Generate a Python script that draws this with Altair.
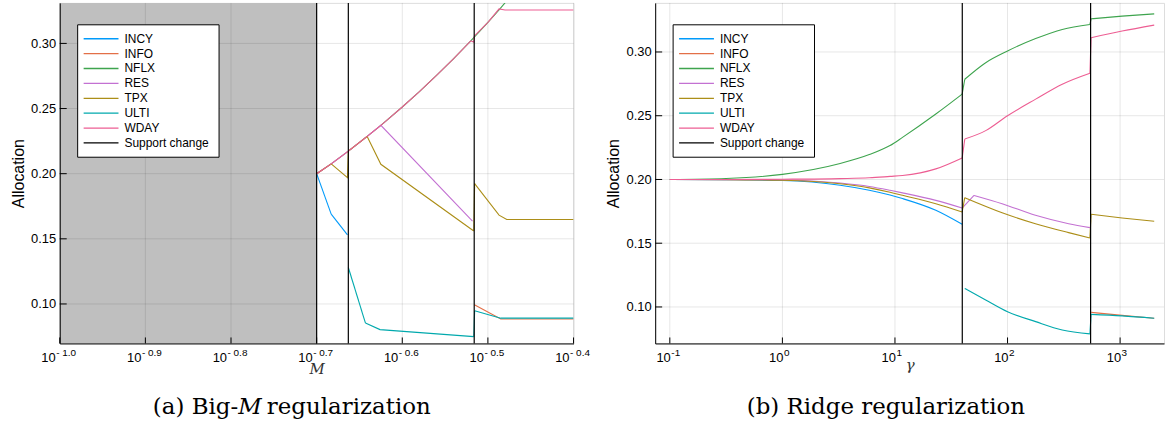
import altair as alt
import pandas as pd

SERIES = ["INCY", "INFO", "NFLX", "RES", "TPX", "ULTI", "WDAY"]
COLORS = ["#009AFA", "#E36F47", "#3EA44E", "#C371D2", "#AC8E18", "#00A9AD", "#ED5E93"]
SUPPORT = "Support change"
Y_TICKS = [0.10, 0.15, 0.20, 0.25, 0.30]

# ---------------- panel (a): Big-M, x = log10(M) ----------------
A_X_TICKS = [-1.0, -0.9, -0.8, -0.7, -0.6, -0.5, -0.4]
A_X_EXP = ["- 1.0", "- 0.9", "- 0.8", "- 0.7", "- 0.6", "- 0.5", "- 0.4"]
A_CHANGES = [-0.700, -0.663, -0.516]
A_SHADE = [-1.0, -0.7]

A_INCY_X = [-0.700, -0.683, -0.664]
A_INCY_Y = [0.2000, 0.1690, 0.1530]
A_INFO_X = [-0.5158, -0.485, -0.400]
A_INFO_Y = [0.0994, 0.0884, 0.0884]
A_NFLX_X = [-0.700, -0.683, -0.663, -0.641, -0.625, -0.600, -0.580, -0.560, -0.540, -0.520, -0.500, -0.487, -0.470, -0.450]
A_NFLX_Y = [0.2000, 0.2075, 0.2173, 0.2286, 0.2371, 0.2512, 0.2630, 0.2754, 0.2884, 0.3020, 0.3162, 0.3258, 0.3388, 0.3548]
A_RES_X = [-0.700, -0.683, -0.663, -0.641, -0.625, -0.518]
A_RES_Y = [0.2000, 0.2075, 0.2173, 0.2286, 0.2371, 0.1636]
A_TPX_X = [-0.700, -0.683, -0.664, -0.663, -0.641, -0.625, -0.5165, -0.5155, -0.487, -0.478, -0.400]
A_TPX_Y = [0.2000, 0.2075, 0.1970, 0.2173, 0.2286, 0.2072, 0.1560, 0.1924, 0.1682, 0.1648, 0.1648]
A_ULTI_X = [-0.663, -0.643, -0.626, -0.5165, -0.5155, -0.485, -0.400]
A_ULTI_Y = [0.1280, 0.0853, 0.0803, 0.0749, 0.0948, 0.0891, 0.0891]
A_WDAY_X = [-0.700, -0.683, -0.663, -0.641, -0.625, -0.600, -0.580, -0.560, -0.540, -0.520, -0.5165, -0.5160, -0.500, -0.487, -0.480, -0.400]
A_WDAY_Y = [0.2000, 0.2075, 0.2173, 0.2286, 0.2371, 0.2512, 0.2630, 0.2754, 0.2884, 0.3020, 0.3010, 0.3055, 0.3162, 0.3265, 0.3257, 0.3257]

# ---------------- panel (b): Ridge, x = log10(gamma) ----------------
B_X_TICKS = [-1, 0, 1, 2, 3]
B_X_EXP = ["-1", "0", "1", "2", "3"]
B_CHANGES = [1.598, 2.738]

B_INCY_X = [-1.0, -0.5, 0.0, 0.513, 0.772, 0.956, 1.067, 1.363, 1.597]
B_INCY_Y = [0.2000, 0.1998, 0.1992, 0.1955, 0.1916, 0.1878, 0.1850, 0.1758, 0.1648]
B_INFO_X = [2.742, 3.018, 3.303]
B_INFO_Y = [0.0958, 0.0934, 0.0911]
B_NFLX_X = [-1.0, -0.5, 0.0, 0.513, 0.772, 0.956, 1.067, 1.363, 1.597, 1.620, 1.806, 2.000, 2.250, 2.486, 2.732, 2.742, 3.018, 3.303]
B_NFLX_Y = [0.2000, 0.2008, 0.2040, 0.2125, 0.2195, 0.2266, 0.2330, 0.2513, 0.2669, 0.2786, 0.2916, 0.3008, 0.3105, 0.3177, 0.3216, 0.3260, 0.3281, 0.3299]
B_RES_X = [-1.0, -0.5, 0.0, 0.513, 0.772, 0.956, 1.067, 1.363, 1.597, 1.702, 1.952, 2.248, 2.543, 2.732]
B_RES_Y = [0.2000, 0.1999, 0.1996, 0.1972, 0.1945, 0.1915, 0.1895, 0.1836, 0.1776, 0.1875, 0.1810, 0.1719, 0.1653, 0.1622]
B_TPX_X = [-1.0, -0.5, 0.0, 0.513, 0.772, 0.956, 1.067, 1.363, 1.597, 1.620, 1.952, 2.248, 2.543, 2.732, 2.742, 3.018, 3.303]
B_TPX_Y = [0.2000, 0.1999, 0.1994, 0.1966, 0.1934, 0.1900, 0.1876, 0.1810, 0.1745, 0.1857, 0.1739, 0.1653, 0.1583, 0.1541, 0.1727, 0.1698, 0.1672]
B_ULTI_X = [1.620, 1.806, 2.000, 2.250, 2.486, 2.732, 2.742, 3.018, 3.303]
B_ULTI_Y = [0.1145, 0.1055, 0.0963, 0.0885, 0.0820, 0.0789, 0.0942, 0.0930, 0.0911]
B_WDAY_X = [-1.0, -0.5, 0.0, 0.513, 0.772, 0.956, 1.067, 1.363, 1.597, 1.620, 1.806, 2.000, 2.250, 2.486, 2.732, 2.742, 3.018, 3.303]
B_WDAY_Y = [0.2000, 0.2000, 0.2002, 0.2007, 0.2013, 0.2024, 0.2031, 0.2083, 0.2169, 0.2317, 0.2383, 0.2500, 0.2630, 0.2747, 0.2833, 0.3112, 0.3164, 0.3211]

SANS = "Liberation Sans"
SERIF = "DejaVu Serif"


def series_frames(pairs, changes):
    """Split every series into pieces between support changes (smooth pieces)
    plus short straight connectors across each change."""
    rows, conns = [], []
    for name, (xs, ys) in pairs.items():
        segs = [sum(1 for c in changes if x > c) for x in xs]
        for x, y, s in zip(xs, ys, segs):
            rows.append({"series": name, "x": x, "y": y, "seg": f"{name}-{s}"})
        for i in range(len(xs) - 1):
            if segs[i] != segs[i + 1]:
                key = f"{name}-c{i}"
                conns.append({"series": name, "x": xs[i], "y": ys[i], "seg": key})
                conns.append({"series": name, "x": xs[i + 1], "y": ys[i + 1], "seg": key})
    return pd.DataFrame(rows), pd.DataFrame(conns)


A_DF, A_CONN = series_frames({
    "INCY": (A_INCY_X, A_INCY_Y), "INFO": (A_INFO_X, A_INFO_Y), "NFLX": (A_NFLX_X, A_NFLX_Y),
    "RES": (A_RES_X, A_RES_Y), "TPX": (A_TPX_X, A_TPX_Y), "ULTI": (A_ULTI_X, A_ULTI_Y),
    "WDAY": (A_WDAY_X, A_WDAY_Y)}, A_CHANGES)
B_DF, B_CONN = series_frames({
    "INCY": (B_INCY_X, B_INCY_Y), "INFO": (B_INFO_X, B_INFO_Y), "NFLX": (B_NFLX_X, B_NFLX_Y),
    "RES": (B_RES_X, B_RES_Y), "TPX": (B_TPX_X, B_TPX_Y), "ULTI": (B_ULTI_X, B_ULTI_Y),
    "WDAY": (B_WDAY_X, B_WDAY_Y)}, B_CHANGES)


def panel(df, conn, xdom, ydom, w, h, xticks, xexp, changes, shade, x_title, title_y,
          interp, lab_dx, captions):
    xs = alt.Scale(domain=xdom, nice=False, zero=False)
    ys = alt.Scale(domain=ydom, nice=False, zero=False)
    cs = alt.Scale(domain=SERIES + [SUPPORT], range=COLORS + ["black"])
    xax = alt.Axis(
        labels=False, ticks=False, grid=False, domain=True, domainColor="black",
        domainWidth=1, title=x_title, titleFont=SERIF, titleFontStyle="italic",
        titleFontWeight="normal", titleFontSize=15, titleColor="#333333",
        titleY=title_y, titleBaseline="alphabetic", zindex=1)
    yax = alt.Axis(
        values=Y_TICKS, format=".2f", labelFont=SANS, labelFontSize=13,
        labelColor="black", labelPadding=4, ticks=False, grid=False,
        domainColor="black", domainWidth=1, title="Allocation", titleFont=SANS,
        titleFontSize=16, titleFontWeight="normal", titleColor="black",
        titleX=-41.5, titleY=h / 2, titleBaseline="middle", titleAngle=270, zindex=1)

    def X(f):
        return alt.X(f, scale=xs, axis=xax)

    def Y(f):
        return alt.Y(f, scale=ys, axis=yax)

    tick_df = pd.DataFrame({"t": xticks, "e": xexp, "b": ["10"] * len(xticks)})
    ytick_df = pd.DataFrame({"t": Y_TICKS})
    layers = []
    if shade:
        layers.append(
            alt.Chart(pd.DataFrame({"a": [shade[0]], "b": [shade[1]]}))
            .mark_rect(color="#bfbfbf")
            .encode(x=X("a:Q"), x2="b:Q", y=alt.value(0), y2=alt.value(h)))
    layers.append(
        alt.Chart(tick_df).mark_rule(color="black", opacity=0.1, strokeWidth=1)
        .encode(x=X("t:Q")))
    layers.append(
        alt.Chart(ytick_df).mark_rule(color="black", opacity=0.1, strokeWidth=1)
        .encode(y=Y("t:Q")))
    layers.append(
        alt.Chart(conn).mark_line(clip=True, strokeWidth=1.1, interpolate="linear")
        .encode(x=X("x:Q"), y=Y("y:Q"),
                color=alt.Color("series:N", scale=cs, legend=None),
                detail="seg:N"))
    layers.append(
        alt.Chart(df).mark_line(clip=True, strokeWidth=1.1, interpolate=interp)
        .encode(x=X("x:Q"), y=Y("y:Q"),
                color=alt.Color("series:N", scale=cs, legend=None),
                detail="seg:N"))
    layers.append(
        alt.Chart(pd.DataFrame({"c": changes})).mark_rule(color="black", strokeWidth=1.2)
        .encode(x=X("c:Q")))
    layers.append(
        alt.Chart(tick_df).mark_rule(color="black", strokeWidth=1)
        .encode(x=X("t:Q"), y=alt.value(h), y2=alt.value(h - 6)))
    layers.append(
        alt.Chart(ytick_df).mark_rule(color="black", strokeWidth=1)
        .encode(y=Y("t:Q"), x=alt.value(0), x2=alt.value(7)))
    layers.append(
        alt.Chart(tick_df).mark_text(align="right", baseline="alphabetic", dx=lab_dx,
                                     font=SANS, fontSize=13, color="black")
        .encode(x=X("t:Q"), y=alt.value(h + 18.5), text="b:N"))
    layers.append(
        alt.Chart(tick_df).mark_text(align="left", baseline="alphabetic", dx=lab_dx + 0.5,
                                     font=SANS, fontSize=10, color="black")
        .encode(x=X("t:Q"), y=alt.value(h + 12.5), text="e:N"))
    # legend drawn inside the plot
    leg_df = pd.DataFrame({"name": SERIES + [SUPPORT], "i": list(range(len(SERIES) + 1))})
    layers.append(
        alt.Chart(pd.DataFrame({"a": [0]})).mark_rect(fill="white", stroke="black", strokeWidth=1)
        .encode(x=alt.value(18), x2=alt.value(160), y=alt.value(22), y2=alt.value(155)))
    layers.append(
        alt.Chart(leg_df).transform_calculate(py="36 + datum.i * 14.95")
        .mark_rule(strokeWidth=1.3)
        .encode(x=alt.value(24), x2=alt.value(59), y=alt.Y("py:Q", scale=None),
                color=alt.Color("name:N", scale=cs, legend=None)))
    layers.append(
        alt.Chart(leg_df).transform_calculate(py="36 + datum.i * 14.95")
        .mark_text(align="left", baseline="middle", font=SANS, fontSize=12, color="black")
        .encode(x=alt.value(65), y=alt.Y("py:Q", scale=None), text="name:N"))
    for txt, cx, style, align in captions:
        layers.append(
            alt.Chart(pd.DataFrame({"s": [txt]}))
            .mark_text(align=align, baseline="alphabetic", font=SERIF, fontSize=23,
                       fontStyle=style, color="black")
            .encode(x=alt.value(cx), y=alt.value(h + 71), text="s:N"))
    return alt.layer(*layers).properties(width=w, height=h)


H = 342
left = panel(A_DF, A_CONN, [-1.0, -0.4], [0.0697, 0.3311], 516, H, A_X_TICKS, A_X_EXP,
             A_CHANGES, A_SHADE, "M", 30.5, "linear", -4,
             [("(a) Big-", 179.2, "normal", "right"), ("M", 179.2, "italic", "left"),
              ("regularization", 208.0, "normal", "left")])
right = panel(B_DF, B_CONN, [-1.13, 3.39], [0.0714, 0.3385], 511, H, B_X_TICKS, B_X_EXP,
              B_CHANGES, None, "γ", 26.5, "monotone", 1,
              [("(b) Ridge regularization", 231.7, "normal", "center")])

chart = (alt.hconcat(left, right, spacing=14)
         .properties(padding={"left": 10, "top": 0, "right": 0, "bottom": 0})
         .configure_view(stroke=None)
         .configure(background="white"))

chart.save("out.html", embed_options={"renderer": "svg", "actions": False})
